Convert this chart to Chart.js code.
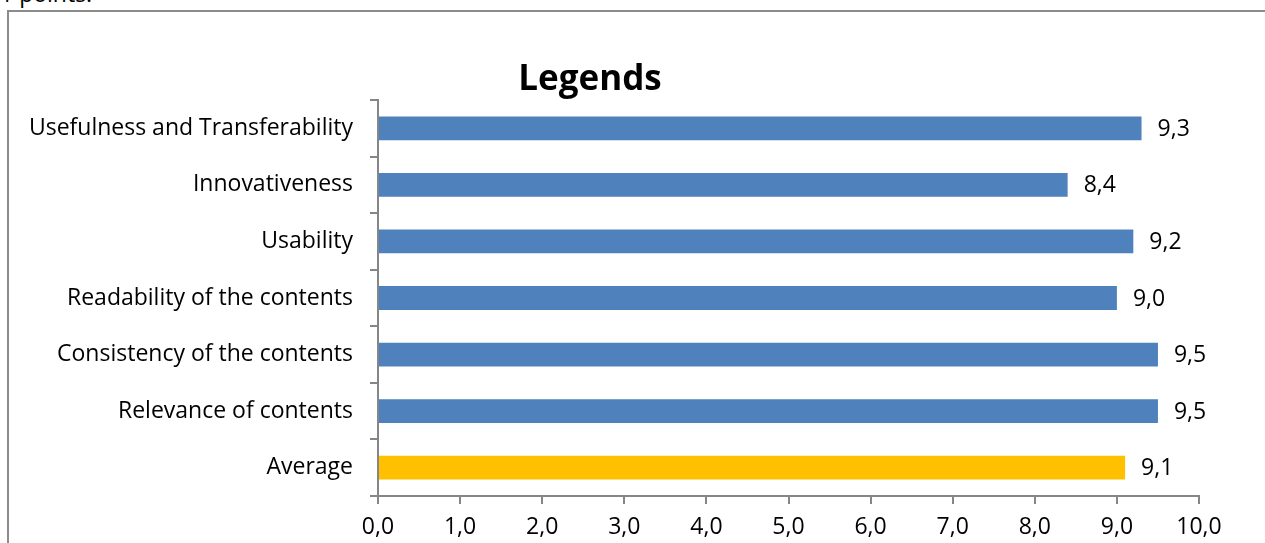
<!DOCTYPE html>
<html>
<head>
<meta charset="utf-8">
<script src="https://cdn.jsdelivr.net/npm/chart.js@4"></script>
<style>
  body { margin: 0; background: #fff; overflow: hidden; }
  #wrap { position: relative; width: 1265px; height: 543px; }
  #cut { position: absolute; left: 0; top: -23px; font: 23px "Open Sans", sans-serif; color: #000; }
  #frame { position: absolute; left: 7px; top: 10px; width: 1300px; height: 600px;
           border-left: 2px solid #8c8c8c; border-top: 2px solid #8c8c8c; }
  #myChart { position: absolute; left: 0; top: 0; }
</style>
</head>
<body>
<div id="wrap">
  <div id="cut">1 points.</div>
  <div id="frame"></div>
  <canvas id="myChart" width="1265" height="543"></canvas>
</div>
<script>
// dados do gráfico
const categorias = [
  'Usefulness and Transferability',
  'Innovativeness',
  'Usability',
  'Readability of the contents',
  'Consistency of the contents',
  'Relevance of contents',
  'Average'
];
const valores = [9.3, 8.4, 9.2, 9.0, 9.5, 9.5, 9.1];
const cores = ['#4F81BD', '#4F81BD', '#4F81BD', '#4F81BD', '#4F81BD', '#4F81BD', '#FFC000'];
const ticksX = [0, 1, 2, 3, 4, 5, 6, 7, 8, 9, 10];

const fonte = '"Open Sans", sans-serif';
const virgula = (v) => Number(v).toFixed(1).replace('.', ',');

// rótulos de valor à direita das barras
const rotulos = {
  id: 'rotulos',
  afterDatasetsDraw(chart) {
    const ctx = chart.ctx;
    const meta = chart.getDatasetMeta(0);
    ctx.save();
    ctx.font = '23px ' + fonte;
    ctx.fillStyle = '#000';
    ctx.textBaseline = 'middle';
    ctx.textAlign = 'left';
    meta.data.forEach((bar, i) => {
      ctx.fillText(virgula(valores[i]), bar.x + 16, bar.y + 1);
    });
    ctx.restore();
  }
};

// título "Legends"
const titulo = {
  id: 'titulo',
  afterDraw(chart) {
    const ctx = chart.ctx;
    ctx.save();
    ctx.font = 'bold 35px ' + fonte;
    ctx.fillStyle = '#000';
    ctx.textAlign = 'center';
    ctx.textBaseline = 'middle';
    ctx.fillText('Legends', 590, 80);
    ctx.restore();
  }
};

const ctx = document.getElementById('myChart').getContext('2d');
const chart = new Chart(ctx, {
  type: 'bar',
  data: {
    labels: categorias,
    datasets: [{
      data: valores,
      backgroundColor: cores,
      borderWidth: 0,
      barPercentage: 0.42,
      categoryPercentage: 1
    }]
  },
  options: {
    indexAxis: 'y',
    responsive: false,
    animation: false,
    layout: { padding: { left: 0, right: 66, top: 100, bottom: 0 } },
    plugins: { legend: { display: false }, tooltip: { enabled: false } },
    scales: {
      x: {
        min: 0,
        max: 10,
        afterBuildTicks: (s) => { s.ticks = ticksX.map((v) => ({ value: v })); },
        afterFit: (s) => { s.height = 47; },
        ticks: {
          callback: (v) => virgula(v),
          color: '#000',
          font: { family: fonte, size: 23 },
          padding: 10,
          maxRotation: 0
        },
        grid: { drawOnChartArea: false, tickLength: 8, color: '#868686', lineWidth: 2 },
        border: { color: '#868686', width: 2 }
      },
      y: {
        afterFit: (s) => { s.width = 378; },
        ticks: {
          color: '#000',
          font: { family: fonte, size: 23 },
          padding: 17
        },
        grid: { drawOnChartArea: false, tickLength: 8, color: '#868686', lineWidth: 2, offset: true },
        border: { color: '#868686', width: 2 }
      }
    }
  },
  plugins: [rotulos, titulo]
});
</script>
</body>
</html>
